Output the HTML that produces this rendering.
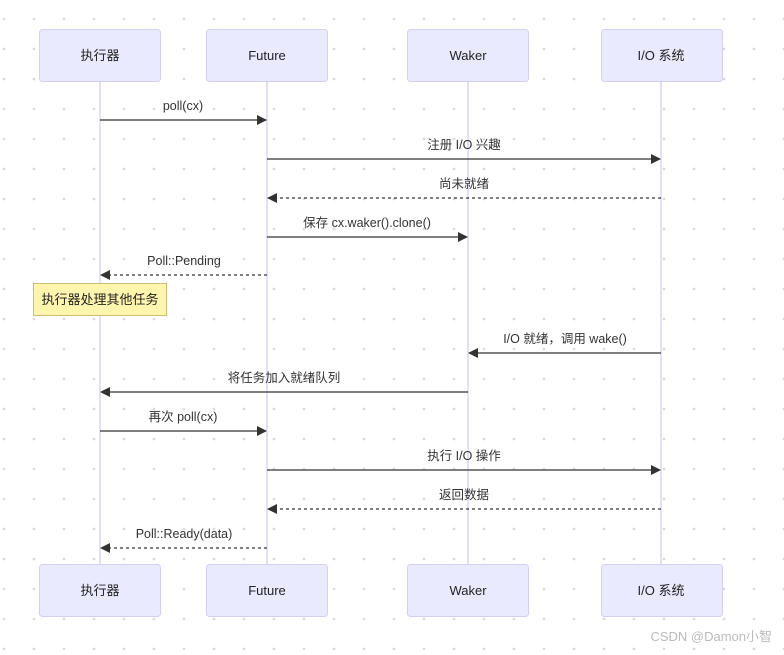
<!DOCTYPE html>
<html><head><meta charset="utf-8"><style>body{margin:0;background:#fff}</style></head><body>
<svg width="784" height="650" xmlns="http://www.w3.org/2000/svg" font-family="'Liberation Sans','Noto Sans CJK SC',sans-serif">
<defs>
<pattern id="d" x="0" y="0" width="30" height="30" patternUnits="userSpaceOnUse"><circle cx="4" cy="19" r="1.4" fill="#dcdcdc"/></pattern>
<marker id="a" markerWidth="10" markerHeight="10" refX="9" refY="5" orient="auto" markerUnits="userSpaceOnUse"><path d="M0,0 L10,5 L0,10 z" fill="#333"/></marker>
</defs>
<rect width="784" height="650" fill="url(#d)"/>
<g stroke="#ddd3f5" stroke-width="1.5">
<line x1="100" y1="81" x2="100" y2="564"/><line x1="267" y1="81" x2="267" y2="564"/><line x1="468" y1="81" x2="468" y2="564"/><line x1="661" y1="81" x2="661" y2="564"/>
</g>
<g fill="#eaeaff" stroke="#d4d0f5" stroke-width="1">
<rect x="39.5" y="29.5" width="121" height="52" rx="3"/><rect x="206.5" y="29.5" width="121" height="52" rx="3"/><rect x="407.5" y="29.5" width="121" height="52" rx="3"/><rect x="601.5" y="29.5" width="121" height="52" rx="3"/>
<rect x="39.5" y="564.5" width="121" height="52" rx="3"/><rect x="206.5" y="564.5" width="121" height="52" rx="3"/><rect x="407.5" y="564.5" width="121" height="52" rx="3"/><rect x="601.5" y="564.5" width="121" height="52" rx="3"/>
</g>
<g font-size="13" fill="#222" text-anchor="middle">
<text x="100" y="60">执行器</text><text x="267" y="60">Future</text><text x="468" y="60">Waker</text><text x="661" y="60">I/O 系统</text>
<text x="100" y="595">执行器</text><text x="267" y="595">Future</text><text x="468" y="595">Waker</text><text x="661" y="595">I/O 系统</text>
</g>
<rect x="33.5" y="283.5" width="133" height="32" fill="#fff5ad" stroke="#c8c070"/>
<text x="100" y="304" font-size="13" fill="#222" text-anchor="middle">执行器处理其他任务</text>
<g stroke="#333" stroke-width="1.3" marker-end="url(#a)">
<line x1="100" y1="120" x2="266" y2="120"/>
<line x1="267" y1="159" x2="660" y2="159"/>
<line x1="661" y1="198" x2="268" y2="198" stroke-dasharray="3,3"/>
<line x1="267" y1="237" x2="467" y2="237"/>
<line x1="267" y1="275" x2="101" y2="275" stroke-dasharray="3,3"/>
<line x1="661" y1="353" x2="469" y2="353"/>
<line x1="468" y1="392" x2="101" y2="392"/>
<line x1="100" y1="431" x2="266" y2="431"/>
<line x1="267" y1="470" x2="660" y2="470"/>
<line x1="661" y1="509" x2="268" y2="509" stroke-dasharray="3,3"/>
<line x1="267" y1="548" x2="101" y2="548" stroke-dasharray="3,3"/>
</g>
<g font-size="12.5" fill="#333" text-anchor="middle">
<text x="183" y="110">poll(cx)</text>
<text x="464" y="149">注册 I/O 兴趣</text>
<text x="464" y="188">尚未就绪</text>
<text x="367" y="227">保存 cx.waker().clone()</text>
<text x="184" y="265">Poll::Pending</text>
<text x="565" y="343">I/O 就绪，调用 wake()</text>
<text x="284" y="382">将任务加入就绪队列</text>
<text x="183" y="421">再次 poll(cx)</text>
<text x="464" y="460">执行 I/O 操作</text>
<text x="464" y="499">返回数据</text>
<text x="184" y="538">Poll::Ready(data)</text>
</g>
<text x="772" y="641" font-size="13" fill="#bbb" text-anchor="end">CSDN @Damon小智</text>
</svg>
</body></html>
